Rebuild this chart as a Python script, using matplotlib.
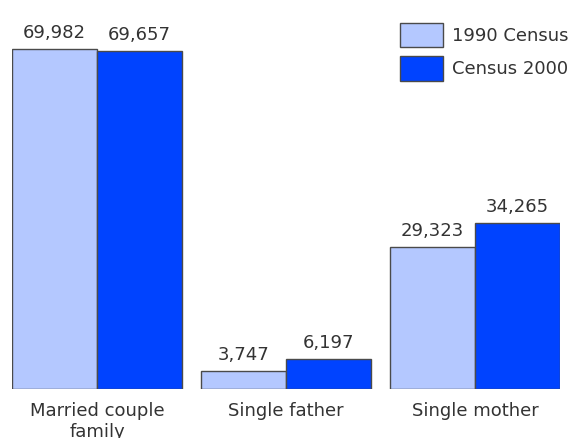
import numpy as np
import matplotlib.pyplot as plt

categories = ['Married couple\nfamily', 'Single father', 'Single mother']
census_1990 = [69982, 3747, 29323]
census_2000 = [69657, 6197, 34265]
series_names = ['1990 Census', 'Census 2000']

light_blue = '#b4c8ff'
dark_blue = '#0043ff'
edge = '#4a4a4a'
text_col = '#333333'

fig = plt.figure(figsize=(5.68, 4.38), dpi=100)
ax = fig.add_axes([12 / 568, (438 - 389) / 438, 548 / 568, 369 / 438])

x = np.arange(len(categories))
w = 0.45
b1 = ax.bar(x - w / 2, census_1990, w, color=light_blue, edgecolor=edge, linewidth=1,
            label=series_names[0])
b2 = ax.bar(x + w / 2, census_2000, w, color=dark_blue, edgecolor=edge, linewidth=1,
            label=series_names[1])

for bars, vals in ((b1, census_1990), (b2, census_2000)):
    for rect, v in zip(bars, vals):
        ax.annotate(f'{v:,}', (rect.get_x() + rect.get_width() / 2, rect.get_height()),
                    xytext=(0, 5), textcoords='offset points', ha='center', va='bottom',
                    fontsize=13, color=text_col)

ax.set_xlim(-0.45, 2.45)
ax.set_ylim(0, 69982 * 369 / 340)
ax.set_xticks(x)
ax.set_xticklabels(categories, fontsize=13, color=text_col)
ax.tick_params(axis='x', length=0, pad=9.5)
ax.set_yticks([])
for s in ax.spines.values():
    s.set_visible(False)

fig.legend(loc='upper left', bbox_to_anchor=(400 / 568, 1 - 23 / 438), frameon=False,
           fontsize=13, handlelength=2.4, handleheight=1.7, labelspacing=0.5,
           handletextpad=0.5, borderpad=0, borderaxespad=0, labelcolor=text_col)

fig.savefig('out.png', dpi=100)
